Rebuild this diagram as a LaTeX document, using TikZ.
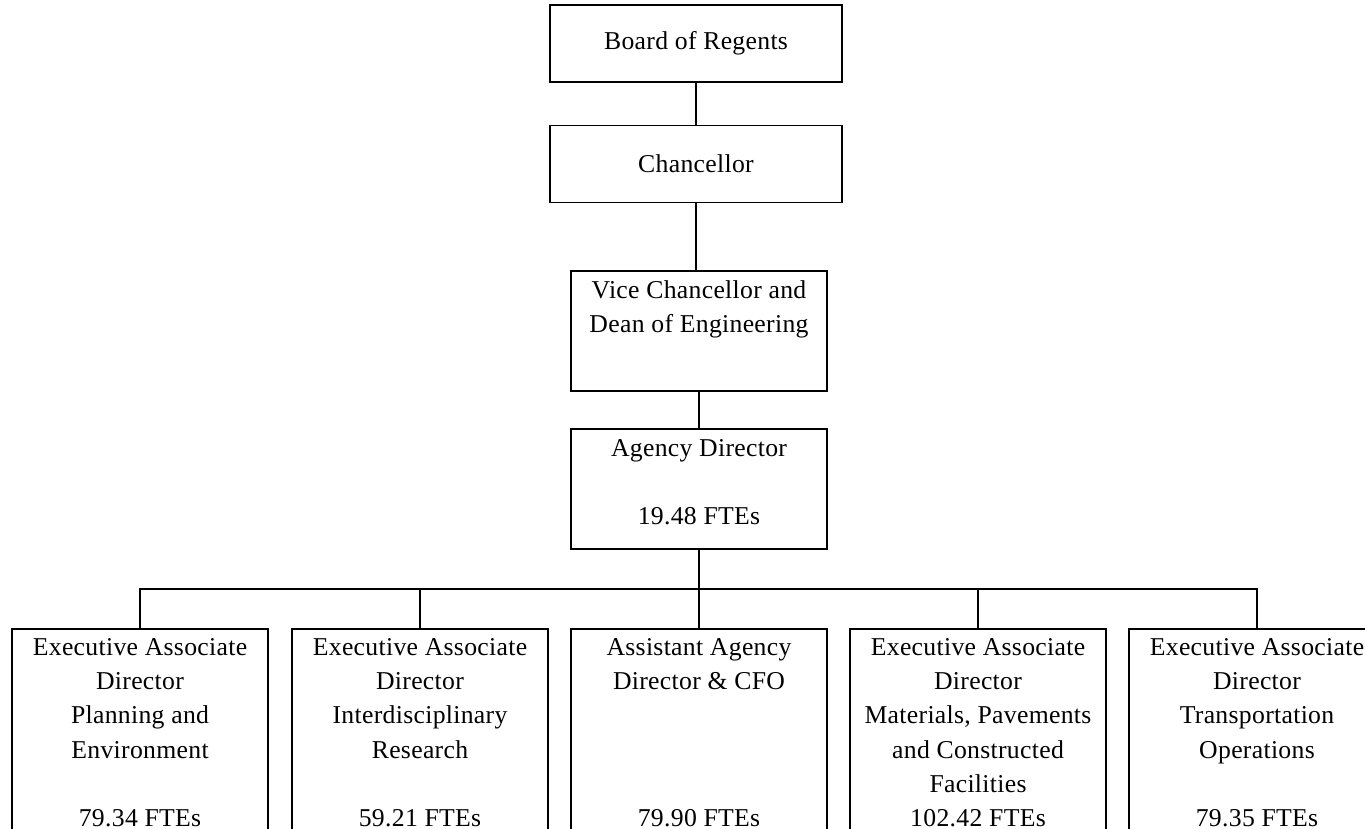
\documentclass[tikz,border=0pt]{standalone}
\usepackage{fontspec}
\setmainfont[LetterSpace=1.2]{Liberation Serif}
\begin{document}
\begin{tikzpicture}[x=1bp,y=-1bp,
  box/.style={draw, line width=1.7bp, rectangle, inner sep=0pt},
  topbox/.style={box, minimum width=292bp, minimum height=77bp, font=\fontsize{25.7bp}{34.3bp}\selectfont},
  midbox/.style={box, minimum width=256bp, minimum height=120bp},
  lowbox/.style={box, minimum width=256bp, minimum height=260bp},
  txt/.style={align=center, inner sep=0pt, anchor=north, font=\fontsize{25.7bp}{34.3bp}\selectfont},
  wire/.style={line width=1.7bp}]
\useasboundingbox (0,0) rectangle (1365,828);
\clip (0,0) rectangle (1365,828);
% top boxes
\node[topbox] (bor) at (696,43.5) {Board of Regents};
\node[topbox] (chan) at (696,164) {Chancellor};
\node[midbox] (vc) at (699,331) {};
\node[txt] (vct) at ([yshift=-10bp]vc.north) {Vice Chancellor and\\Dean of Engineering};
\node[midbox] (ad) at (699,489) {};
\node[txt] (adt) at ([yshift=-11bp]ad.north) {Agency Director\\\mbox{}\\19.48 FTEs};
% bottom boxes
\node[lowbox] (b1) at (140,759) {};
\node[lowbox] (b2) at (420,759) {};
\node[lowbox] (b3) at (699,759) {};
\node[lowbox] (b4) at (978,759) {};
\node[lowbox] (b5) at (1257,759) {};
\node[txt] (t1) at ([yshift=-10bp]b1.north) {Executive Associate\\Director\\Planning and\\Environment\\\mbox{}\\79.34 FTEs};
\node[txt] (t2) at ([yshift=-10bp]b2.north) {Executive Associate\\Director\\Interdisciplinary\\Research\\\mbox{}\\59.21 FTEs};
\node[txt] (t3) at ([yshift=-10bp]b3.north) {Assistant Agency\\Director \& CFO\\\mbox{}\\\mbox{}\\\mbox{}\\79.90 FTEs};
\node[txt] (t4) at ([yshift=-10bp]b4.north) {Executive Associate\\Director\\Materials, Pavements\\and Constructed\\Facilities\\102.42 FTEs};
\node[txt] (t5) at ([yshift=-10bp]b5.north) {Executive Associate\\Director\\Transportation\\Operations\\\mbox{}\\79.35 FTEs};
% connectors
\coordinate (bus) at (0,589);
\draw[wire] (bor.south) -- (chan.north);
\draw[wire] (chan.south) -- (chan.south |- vc.north);
\draw[wire] (vc.south) -- (ad.north);
\draw[wire] (ad.south) -- (ad.south |- bus);
\draw[wire] (b1.north) -- (b1.north |- bus) -- (b5.north |- bus) -- (b5.north);
\draw[wire] (b2.north) -- (b2.north |- bus);
\draw[wire] (b3.north) -- (b3.north |- bus);
\draw[wire] (b4.north) -- (b4.north |- bus);
\end{tikzpicture}
\end{document}
